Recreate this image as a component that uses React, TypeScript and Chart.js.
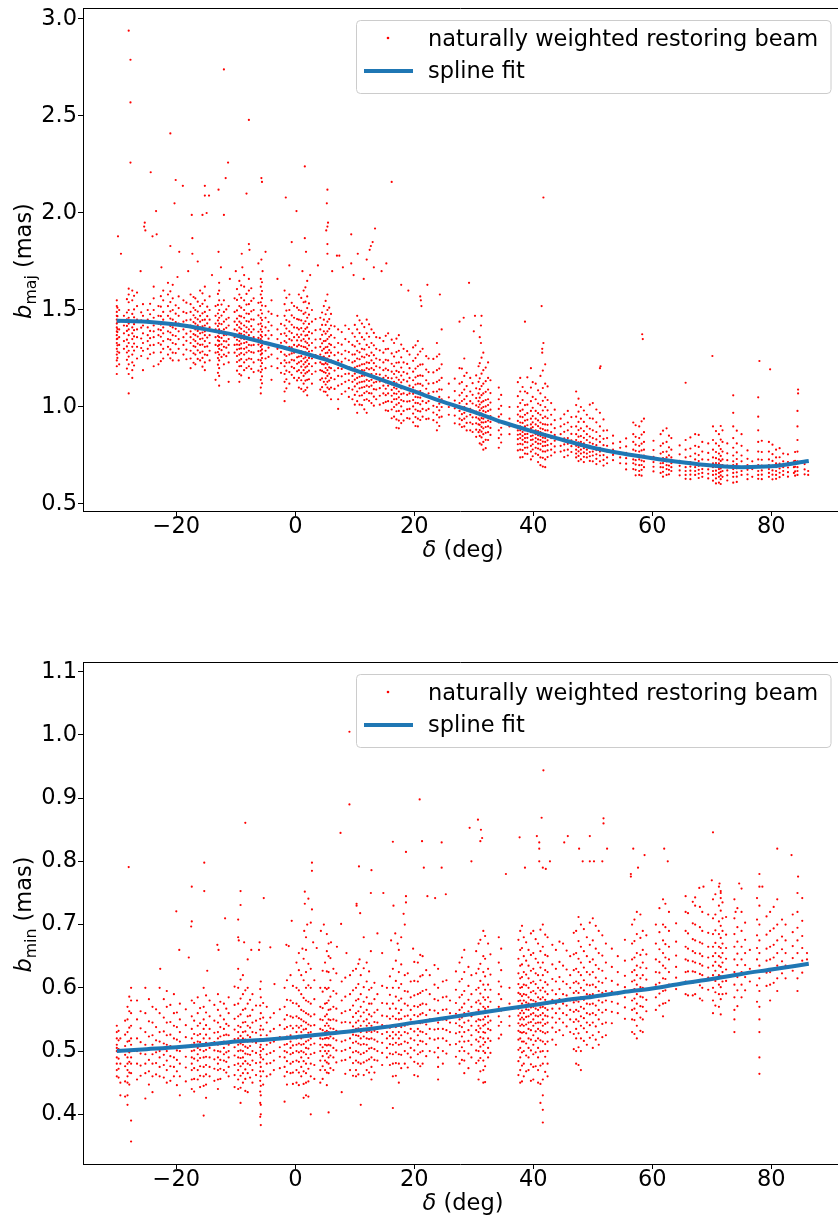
import React, { useEffect, useRef } from "react";
import { Chart, registerables } from "chart.js";

Chart.register(...registerables);

const FONT = '"DejaVu Sans", sans-serif';
const FS = 22.5;

type Column = [number, number[]];
type Pt = [number, number];

// ---------- axes ----------
const X_MIN = -35.68;
const X_MAX = 91.21;
const xTicks = [-20, 0, 20, 40, 60, 80];
const majYTicks = [0.5, 1.0, 1.5, 2.0, 2.5, 3.0];
const minYTicks = [0.4, 0.5, 0.6, 0.7, 0.8, 0.9, 1.0, 1.1];

// ---------- spline fits ----------
const splineDec = [-30, -25, -20, -15, -10, -5, 0, 5, 10, 15, 20, 25, 30, 35, 40, 45, 50, 55, 60, 65, 70, 75, 80, 86.3];
const majSpline = [1.445, 1.44, 1.425, 1.4, 1.37, 1.33, 1.29, 1.245, 1.19, 1.135, 1.08, 1.025, 0.975, 0.92, 0.873, 0.83, 0.79, 0.76, 0.736, 0.715, 0.698, 0.69, 0.694, 0.722];
const minSpline = [0.5, 0.503, 0.506, 0.51, 0.515, 0.518, 0.522, 0.527, 0.532, 0.538, 0.545, 0.552, 0.559, 0.566, 0.573, 0.58, 0.586, 0.593, 0.599, 0.607, 0.614, 0.622, 0.629, 0.638];

// ---------- b_maj beam columns (declination, values) ----------
const majSouth: Column[] = [
  [-30.0, [1.55, 1.52, 1.49, 1.47, 1.45, 1.43, 1.41, 1.39, 1.37, 1.35, 1.33, 1.3, 1.27, 1.24, 1.21, 1.17]],
  [-29.6, [1.5, 1.44, 1.4, 1.36, 1.32, 1.28, 1.22]],
  [-28.8, [1.47, 1.42, 1.38, 1.34, 1.3]],
  [-28.0, [1.61, 1.58, 1.54, 1.5, 1.46, 1.43, 1.4, 1.37, 1.33, 1.29, 1.26, 1.22, 1.17, 1.07]],
  [-27.4, [1.6, 1.55, 1.48, 1.44, 1.41, 1.38, 1.35, 1.31, 1.27, 1.23, 1.19, 1.15]],
  [-26.6, [1.59, 1.52, 1.45, 1.4, 1.36, 1.31, 1.25]],
  [-25.6, [1.53, 1.47, 1.42, 1.38, 1.33, 1.29, 1.19]],
  [-24.8, [1.5, 1.45, 1.41, 1.37, 1.34, 1.3, 1.25]],
  [-23.8, [1.62, 1.56, 1.5, 1.46, 1.42, 1.39, 1.36, 1.32, 1.28, 1.21]],
  [-23.0, [1.52, 1.47, 1.43, 1.4, 1.37, 1.33, 1.22]],
  [-22.2, [1.6, 1.55, 1.49, 1.45, 1.41, 1.38, 1.34, 1.3, 1.25]],
  [-21.4, [1.64, 1.58, 1.52, 1.47, 1.43, 1.39, 1.35, 1.31, 1.27]],
  [-20.6, [1.63, 1.56, 1.5, 1.45, 1.41, 1.37, 1.33, 1.28, 1.24]],
  [-19.6, [1.57, 1.51, 1.47, 1.43, 1.39, 1.35, 1.3, 1.24]],
  [-18.8, [1.55, 1.49, 1.44, 1.4, 1.36, 1.32, 1.27]],
  [-17.6, [1.58, 1.53, 1.49, 1.45, 1.42, 1.39, 1.36, 1.33, 1.29, 1.25, 1.2]],
  [-16.8, [1.56, 1.5, 1.46, 1.43, 1.4, 1.37, 1.34, 1.31, 1.27, 1.22]],
  [-16.0, [1.6, 1.52, 1.47, 1.44, 1.41, 1.38, 1.35, 1.32, 1.28, 1.24]],
  [-15.2, [1.62, 1.55, 1.49, 1.45, 1.42, 1.39, 1.37, 1.34, 1.31, 1.27, 1.23, 1.19]],
  [-14.4, [1.57, 1.5, 1.45, 1.41, 1.37, 1.33, 1.29, 1.24]],
  [-13.4, [1.52, 1.47, 1.43, 1.4, 1.36, 1.32, 1.28, 1.14]],
  [-12.8, [1.64, 1.6, 1.55, 1.5, 1.46, 1.43, 1.4, 1.38, 1.36, 1.34, 1.32, 1.3, 1.27, 1.24, 1.2, 1.16, 1.11]],
  [-12.0, [1.55, 1.49, 1.44, 1.4, 1.37, 1.34, 1.31, 1.27, 1.22]],
  [-11.2, [1.52, 1.46, 1.42, 1.38, 1.35, 1.32, 1.28, 1.23, 1.13]],
  [-10.2, [1.56, 1.49, 1.44, 1.4, 1.36, 1.32, 1.28]],
  [-9.4, [1.65, 1.58, 1.52, 1.47, 1.44, 1.41, 1.38, 1.36, 1.34, 1.32, 1.3, 1.27, 1.24, 1.21, 1.17, 1.13]],
  [-8.6, [1.62, 1.55, 1.5, 1.46, 1.42, 1.39, 1.37, 1.35, 1.33, 1.3, 1.27, 1.23, 1.19]],
  [-7.8, [1.66, 1.6, 1.53, 1.48, 1.44, 1.4, 1.37, 1.35, 1.32, 1.29, 1.25, 1.21, 1.15]],
  [-7.0, [1.56, 1.5, 1.45, 1.4, 1.36, 1.32, 1.28, 1.23, 1.18]],
  [-5.8, [1.66, 1.62, 1.58, 1.54, 1.5, 1.46, 1.43, 1.4, 1.37, 1.35, 1.33, 1.31, 1.29, 1.27, 1.24, 1.21, 1.18, 1.14, 1.1, 1.07]],
  [-5.0, [1.52, 1.46, 1.41, 1.37, 1.33, 1.29, 1.25, 1.2]],
  [-4.0, [1.55, 1.48, 1.42, 1.37, 1.32, 1.27, 1.21, 1.14]],
  [-3.0, [1.47, 1.4, 1.35, 1.3, 1.25, 1.2]],
  [-1.8, [1.6, 1.53, 1.47, 1.42, 1.38, 1.34, 1.3, 1.27, 1.24, 1.21, 1.17, 1.13, 1.08, 1.03]],
  [-1.0, [1.58, 1.5, 1.44, 1.39, 1.35, 1.31, 1.27, 1.23, 1.18, 1.12]],
  [-0.2, [1.52, 1.46, 1.41, 1.36, 1.32, 1.28, 1.24, 1.2, 1.15]],
];

const majSouthB: Column[] = [
  [-29.9, [1.512, 1.468, 1.437, 1.402, 1.386, 1.352, 1.318, 1.286, 1.253]],
  [-28.3, [1.556, 1.487, 1.452, 1.418, 1.392, 1.347, 1.312, 1.281, 1.243, 1.198]],
  [-27.1, [1.573, 1.503, 1.462, 1.427, 1.396, 1.364, 1.327, 1.291, 1.214]],
  [-25.9, [1.488, 1.446, 1.409, 1.353, 1.304, 1.263]],
  [-24.4, [1.532, 1.478, 1.433, 1.392, 1.355, 1.318, 1.272]],
  [-22.6, [1.571, 1.517, 1.468, 1.425, 1.396, 1.362, 1.321, 1.282, 1.236]],
  [-21.0, [1.596, 1.541, 1.493, 1.456, 1.418, 1.384, 1.346, 1.297, 1.251]],
  [-20.1, [1.524, 1.481, 1.437, 1.403, 1.366, 1.324, 1.278]],
  [-18.3, [1.538, 1.484, 1.447, 1.413, 1.378, 1.341, 1.296, 1.246]],
  [-17.1, [1.567, 1.511, 1.473, 1.438, 1.407, 1.376, 1.348, 1.314, 1.277, 1.228]],
  [-16.4, [1.543, 1.492, 1.452, 1.421, 1.392, 1.363, 1.327, 1.292, 1.248]],
  [-15.6, [1.586, 1.532, 1.483, 1.448, 1.416, 1.384, 1.353, 1.322, 1.286, 1.253, 1.208]],
  [-14.8, [1.517, 1.468, 1.431, 1.396, 1.358, 1.312, 1.267]],
  [-13.0, [1.583, 1.526, 1.482, 1.446, 1.417, 1.388, 1.366, 1.343, 1.314, 1.283, 1.252, 1.218, 1.176]],
  [-12.4, [1.528, 1.471, 1.427, 1.391, 1.356, 1.323, 1.293, 1.258]],
  [-11.6, [1.503, 1.452, 1.408, 1.372, 1.338, 1.306, 1.262]],
  [-9.8, [1.608, 1.552, 1.498, 1.456, 1.423, 1.394, 1.369, 1.346, 1.322, 1.296, 1.263, 1.232, 1.187]],
  [-9.1, [1.627, 1.563, 1.512, 1.467, 1.431, 1.403, 1.377, 1.353, 1.327, 1.302, 1.278, 1.247, 1.211, 1.163]],
  [-8.2, [1.583, 1.528, 1.482, 1.443, 1.411, 1.384, 1.358, 1.334, 1.307, 1.281, 1.243, 1.201]],
  [-7.4, [1.612, 1.547, 1.493, 1.452, 1.417, 1.386, 1.353, 1.318, 1.283, 1.247, 1.196]],
  [-6.2, [1.537, 1.472, 1.426, 1.388, 1.356, 1.322, 1.288, 1.243, 1.187]],
  [-5.6, [1.643, 1.598, 1.561, 1.523, 1.482, 1.448, 1.416, 1.388, 1.362, 1.341, 1.318, 1.297, 1.276, 1.252, 1.226, 1.193, 1.158, 1.122]],
  [-4.5, [1.492, 1.438, 1.393, 1.352, 1.306, 1.258]],
  [-2.4, [1.428, 1.376, 1.331, 1.284, 1.226, 1.176]],
  [-1.5, [1.563, 1.497, 1.448, 1.404, 1.367, 1.332, 1.298, 1.263, 1.228, 1.187, 1.143, 1.096]],
  [-0.6, [1.537, 1.472, 1.424, 1.381, 1.343, 1.308, 1.276, 1.243, 1.207, 1.166]],
];

const majMid: Column[] = [
  [0.6, [1.58, 1.5, 1.45, 1.4, 1.36, 1.32, 1.29, 1.26, 1.23, 1.19, 1.15, 1.1]],
  [1.4, [1.6, 1.54, 1.48, 1.43, 1.39, 1.35, 1.31, 1.28, 1.25, 1.22, 1.19, 1.16, 1.12, 1.08]],
  [2.0, [1.65, 1.57, 1.51, 1.46, 1.41, 1.37, 1.33, 1.3, 1.27, 1.24, 1.21, 1.18, 1.14, 1.1, 1.06]],
  [2.8, [1.5, 1.44, 1.38, 1.33, 1.29, 1.25, 1.21, 1.17, 1.12]],
  [4.2, [1.46, 1.4, 1.35, 1.31, 1.27, 1.23, 1.19, 1.14, 1.09]],
  [4.8, [1.52, 1.45, 1.39, 1.34, 1.3, 1.26, 1.22, 1.18, 1.13, 1.08]],
  [5.4, [1.58, 1.5, 1.44, 1.39, 1.35, 1.31, 1.28, 1.25, 1.22, 1.19, 1.16, 1.13, 1.1, 1.06]],
  [6.0, [1.48, 1.42, 1.37, 1.32, 1.28, 1.24, 1.2, 1.15, 1.1, 1.04]],
  [7.2, [1.4, 1.33, 1.28, 1.24, 1.2, 1.16, 1.11, 1.04, 0.99]],
  [8.4, [1.42, 1.35, 1.29, 1.25, 1.21, 1.17, 1.13, 1.08]],
  [9.6, [1.38, 1.32, 1.27, 1.23, 1.19, 1.16, 1.13, 1.09, 1.04]],
  [10.4, [1.47, 1.4, 1.34, 1.29, 1.25, 1.21, 1.18, 1.15, 1.12, 1.08, 1.03, 0.97]],
  [11.2, [1.43, 1.36, 1.3, 1.26, 1.22, 1.19, 1.16, 1.13, 1.1, 1.06, 1.01]],
  [12.0, [1.45, 1.38, 1.32, 1.27, 1.23, 1.2, 1.17, 1.14, 1.11, 1.08, 1.04, 0.97]],
  [12.8, [1.4, 1.33, 1.28, 1.24, 1.2, 1.17, 1.14, 1.11, 1.07, 1.02]],
  [13.6, [1.36, 1.3, 1.25, 1.21, 1.17, 1.13, 1.09, 1.04]],
  [14.8, [1.34, 1.28, 1.23, 1.19, 1.15, 1.11, 1.07, 1.02]],
  [15.6, [1.38, 1.3, 1.24, 1.19, 1.15, 1.11, 1.07, 1.03, 0.98]],
  [16.6, [1.33, 1.26, 1.21, 1.17, 1.13, 1.1, 1.07, 1.04, 1.0, 0.95]],
  [17.4, [1.37, 1.29, 1.23, 1.18, 1.14, 1.11, 1.08, 1.05, 1.02, 0.98, 0.93, 0.89]],
  [18.2, [1.3, 1.23, 1.18, 1.14, 1.1, 1.07, 1.03, 0.98, 0.93]],
  [19.2, [1.27, 1.2, 1.15, 1.11, 1.07, 1.03, 0.99, 0.94]],
  [20.6, [1.34, 1.27, 1.21, 1.16, 1.12, 1.08, 1.05, 1.02, 0.98, 0.94, 0.9]],
  [21.4, [1.3, 1.22, 1.16, 1.11, 1.07, 1.03, 0.99, 0.95]],
  [22.4, [1.25, 1.18, 1.12, 1.07, 1.03, 0.99, 0.94]],
  [23.8, [1.33, 1.26, 1.19, 1.13, 1.08, 1.04, 1.0, 0.96, 0.92, 0.88]],
  [24.6, [1.22, 1.15, 1.09, 1.04, 1.0, 0.95]],
  [25.8, [1.12, 1.05, 1.0, 0.96]],
  [27.6, [1.2, 1.12, 1.06, 1.02, 0.98, 0.94, 0.91]],
  [28.4, [1.25, 1.16, 1.09, 1.04, 1.0, 0.97, 0.94, 0.9]],
  [29.4, [1.15, 1.08, 1.03, 0.99, 0.96, 0.92, 0.88]],
];

const majMidB: Column[] = [
  [0.3, [1.512, 1.453, 1.408, 1.373, 1.343, 1.312, 1.284, 1.256, 1.223, 1.184, 1.137]],
  [1.0, [1.562, 1.496, 1.446, 1.407, 1.373, 1.342, 1.314, 1.287, 1.262, 1.236, 1.208, 1.176, 1.138, 1.093]],
  [1.7, [1.617, 1.543, 1.487, 1.442, 1.403, 1.368, 1.337, 1.308, 1.282, 1.256, 1.231, 1.204, 1.173, 1.136, 1.087]],
  [2.3, [1.534, 1.476, 1.428, 1.387, 1.352, 1.318, 1.286, 1.253, 1.222, 1.187, 1.143]],
  [3.4, [1.453, 1.396, 1.348, 1.306, 1.267, 1.226, 1.183]],
  [4.5, [1.487, 1.423, 1.372, 1.328, 1.291, 1.256, 1.221, 1.186, 1.148, 1.102]],
  [5.1, [1.547, 1.478, 1.423, 1.378, 1.341, 1.308, 1.278, 1.251, 1.226, 1.201, 1.176, 1.148, 1.116, 1.078]],
  [5.7, [1.512, 1.453, 1.403, 1.362, 1.326, 1.293, 1.262, 1.233, 1.204, 1.172, 1.136, 1.092]],
  [6.6, [1.416, 1.357, 1.308, 1.267, 1.228, 1.188, 1.143, 1.093]],
  [7.8, [1.386, 1.321, 1.272, 1.233, 1.196, 1.158, 1.118, 1.067]],
  [9.0, [1.402, 1.336, 1.283, 1.241, 1.206, 1.172, 1.138, 1.097, 1.052]],
  [10.0, [1.423, 1.362, 1.312, 1.271, 1.236, 1.203, 1.172, 1.141, 1.106, 1.062, 1.012]],
  [10.8, [1.447, 1.381, 1.326, 1.282, 1.246, 1.213, 1.184, 1.156, 1.127, 1.096, 1.058, 1.012]],
  [11.6, [1.412, 1.348, 1.297, 1.256, 1.221, 1.189, 1.161, 1.132, 1.103, 1.072, 1.036, 0.988]],
  [12.4, [1.426, 1.362, 1.308, 1.264, 1.227, 1.194, 1.163, 1.134, 1.104, 1.071, 1.032]],
  [13.2, [1.382, 1.318, 1.267, 1.226, 1.191, 1.158, 1.126, 1.092, 1.053, 1.007]],
  [14.2, [1.356, 1.292, 1.243, 1.203, 1.167, 1.132, 1.097, 1.058, 1.012]],
  [15.2, [1.367, 1.298, 1.243, 1.198, 1.161, 1.127, 1.094, 1.061, 1.026, 0.983]],
  [16.2, [1.347, 1.276, 1.223, 1.182, 1.148, 1.117, 1.088, 1.058, 1.026, 0.987, 0.942]],
  [17.0, [1.352, 1.283, 1.228, 1.186, 1.152, 1.122, 1.094, 1.068, 1.041, 1.012, 0.978, 0.936, 0.893]],
  [17.8, [1.322, 1.256, 1.203, 1.162, 1.127, 1.096, 1.066, 1.036, 1.003, 0.963, 0.917]],
  [18.8, [1.288, 1.222, 1.172, 1.132, 1.097, 1.063, 1.028, 0.988, 0.943]],
  [19.8, [1.307, 1.238, 1.182, 1.138, 1.101, 1.068, 1.036, 1.003, 0.966, 0.921]],
  [20.2, [1.318, 1.252, 1.198, 1.153, 1.116, 1.083, 1.052, 1.021, 0.987, 0.948, 0.902]],
  [21.0, [1.286, 1.218, 1.163, 1.119, 1.082, 1.048, 1.014, 0.977, 0.933]],
  [22.0, [1.262, 1.193, 1.138, 1.094, 1.056, 1.021, 0.983, 0.938]],
  [23.2, [1.248, 1.178, 1.123, 1.078, 1.041, 1.006, 0.971, 0.932]],
  [24.2, [1.272, 1.198, 1.138, 1.091, 1.052, 1.017, 0.983, 0.946, 0.902]],
  [26.8, [1.146, 1.082, 1.033, 0.993, 0.956, 0.916]],
  [28.0, [1.198, 1.128, 1.073, 1.031, 0.996, 0.963, 0.932, 0.897]],
  [28.8, [1.176, 1.108, 1.056, 1.016, 0.982, 0.951, 0.918, 0.879]],
  [29.8, [1.123, 1.063, 1.018, 0.981, 0.947, 0.912, 0.871]],
];

const majNorth: Column[] = [
  [30.8, [1.21, 1.13, 1.07, 1.03, 1.0, 0.97, 0.94, 0.91, 0.87]],
  [31.6, [1.28, 1.19, 1.12, 1.07, 1.03, 1.0, 0.98, 0.96, 0.94, 0.92, 0.89, 0.86, 0.82, 0.78]],
  [32.4, [1.23, 1.15, 1.09, 1.04, 1.01, 0.98, 0.95, 0.93, 0.9, 0.87, 0.83]],
  [34.2, [1.1, 1.04, 0.99, 0.95, 0.92, 0.88, 0.84, 0.79]],
  [36.0, [1.0, 0.94, 0.9, 0.86]],
  [37.8, [1.15, 1.08, 1.02, 0.98, 0.95, 0.92, 0.9, 0.88, 0.86, 0.84, 0.81, 0.78, 0.74]],
  [38.6, [1.08, 1.01, 0.96, 0.93, 0.9, 0.88, 0.86, 0.84, 0.82, 0.79, 0.76]],
  [39.6, [1.2, 1.1, 1.03, 0.98, 0.94, 0.91, 0.89, 0.87, 0.85, 0.83, 0.8, 0.77, 0.73]],
  [40.4, [1.12, 1.04, 0.98, 0.94, 0.91, 0.88, 0.86, 0.84, 0.82, 0.79, 0.76]],
  [41.2, [1.16, 1.07, 1.01, 0.96, 0.92, 0.89, 0.87, 0.85, 0.83, 0.81, 0.78, 0.74, 0.7]],
  [42.0, [1.22, 1.12, 1.05, 1.0, 0.95, 0.91, 0.88, 0.86, 0.84, 0.82, 0.8, 0.77, 0.73, 0.69]],
  [43.0, [1.02, 0.96, 0.91, 0.87, 0.84, 0.81, 0.78, 0.75]],
  [44.6, [0.94, 0.9, 0.86, 0.83, 0.8, 0.77]],
  [45.8, [0.98, 0.92, 0.88, 0.84, 0.81, 0.78, 0.75]],
  [47.2, [1.08, 1.01, 0.95, 0.9, 0.86, 0.83, 0.8, 0.78, 0.76, 0.74]],
  [48.0, [1.0, 0.94, 0.89, 0.85, 0.82, 0.8, 0.78, 0.76, 0.73]],
  [49.0, [0.96, 0.9, 0.86, 0.83, 0.8, 0.78, 0.76, 0.74]],
  [50.0, [1.02, 0.94, 0.88, 0.84, 0.81, 0.79, 0.77, 0.75, 0.72]],
  [51.2, [0.97, 0.9, 0.85, 0.82, 0.79, 0.77, 0.75, 0.72]],
  [52.4, [0.88, 0.84, 0.8, 0.77, 0.74, 0.71]],
  [54.6, [0.82, 0.79, 0.76, 0.74, 0.71]],
  [56.8, [0.92, 0.86, 0.82, 0.78, 0.75, 0.73, 0.71, 0.68]],
  [57.8, [0.9, 0.84, 0.8, 0.77, 0.75, 0.73, 0.7, 0.67, 0.65]],
  [58.6, [0.94, 0.87, 0.82, 0.78, 0.75, 0.72, 0.69]],
];

const majNorthB: Column[] = [
  [30.4, [1.163, 1.096, 1.046, 1.008, 0.976, 0.946, 0.916, 0.883, 0.846]],
  [31.0, [1.226, 1.148, 1.092, 1.048, 1.013, 0.983, 0.957, 0.933, 0.908, 0.881, 0.851, 0.812]],
  [31.3, [1.254, 1.172, 1.108, 1.061, 1.024, 0.993, 0.966, 0.943, 0.921, 0.898, 0.873, 0.843, 0.806]],
  [32.0, [1.203, 1.133, 1.078, 1.036, 1.003, 0.974, 0.948, 0.923, 0.897, 0.867, 0.831, 0.788]],
  [32.8, [1.138, 1.072, 1.023, 0.986, 0.953, 0.923, 0.892, 0.856]],
  [34.6, [1.062, 1.006, 0.962, 0.926, 0.893, 0.858, 0.817]],
  [37.4, [1.128, 1.056, 1.001, 0.961, 0.928, 0.902, 0.879, 0.857, 0.834, 0.808, 0.776]],
  [38.2, [1.103, 1.036, 0.986, 0.948, 0.918, 0.893, 0.871, 0.851, 0.831, 0.807, 0.778, 0.742]],
  [39.0, [1.153, 1.071, 1.012, 0.968, 0.934, 0.906, 0.882, 0.861, 0.841, 0.818, 0.791, 0.758]],
  [39.9, [1.128, 1.052, 0.996, 0.953, 0.921, 0.896, 0.874, 0.853, 0.832, 0.808, 0.781, 0.746]],
  [40.8, [1.086, 1.018, 0.968, 0.931, 0.901, 0.876, 0.854, 0.833, 0.811, 0.786, 0.753, 0.716]],
  [41.6, [1.188, 1.098, 1.032, 0.982, 0.943, 0.912, 0.886, 0.863, 0.842, 0.821, 0.798, 0.771, 0.738, 0.693]],
  [42.4, [1.106, 1.036, 0.983, 0.942, 0.908, 0.879, 0.853, 0.828, 0.803, 0.776, 0.742]],
  [43.6, [0.986, 0.932, 0.891, 0.856, 0.826, 0.797, 0.766]],
  [45.2, [0.962, 0.911, 0.872, 0.838, 0.807, 0.776, 0.742]],
  [46.4, [0.948, 0.898, 0.861, 0.828, 0.798, 0.768]],
  [47.6, [1.043, 0.976, 0.923, 0.881, 0.847, 0.818, 0.793, 0.771, 0.748, 0.721]],
  [48.5, [0.982, 0.923, 0.876, 0.841, 0.812, 0.788, 0.766, 0.743, 0.716]],
  [49.5, [1.012, 0.942, 0.888, 0.848, 0.817, 0.791, 0.768, 0.746, 0.722]],
  [50.6, [0.987, 0.921, 0.871, 0.833, 0.803, 0.778, 0.756, 0.733, 0.706]],
  [51.8, [0.936, 0.878, 0.836, 0.803, 0.776, 0.752, 0.727, 0.698]],
  [53.4, [0.852, 0.812, 0.781, 0.753, 0.726]],
  [55.6, [0.838, 0.797, 0.764, 0.736, 0.708, 0.678]],
  [57.2, [0.906, 0.846, 0.806, 0.774, 0.748, 0.726, 0.703, 0.676, 0.648]],
  [58.2, [0.926, 0.858, 0.811, 0.776, 0.748, 0.724, 0.701, 0.676, 0.646]],
];

const majFar: Column[] = [
  [61.4, [0.86, 0.8, 0.76, 0.73, 0.71, 0.69, 0.66]],
  [62.4, [0.89, 0.82, 0.77, 0.74, 0.72, 0.7, 0.68, 0.65]],
  [63.2, [0.84, 0.78, 0.74, 0.71, 0.69, 0.67]],
  [65.6, [0.83, 0.78, 0.74, 0.71, 0.69, 0.67, 0.65, 0.63]],
  [67.2, [0.86, 0.8, 0.76, 0.73, 0.71, 0.69, 0.67, 0.65]],
  [68.4, [0.82, 0.77, 0.73, 0.7, 0.68, 0.66, 0.64]],
  [70.2, [0.9, 0.83, 0.78, 0.74, 0.71, 0.69, 0.67, 0.65, 0.62]],
  [71.2, [0.86, 0.8, 0.76, 0.73, 0.71, 0.69, 0.68, 0.66, 0.64, 0.61]],
  [71.8, [0.88, 0.82, 0.77, 0.73, 0.7, 0.67, 0.64]],
  [73.6, [1.06, 0.97, 0.9, 0.84, 0.79, 0.75, 0.72, 0.7, 0.68, 0.66, 0.64, 0.61]],
  [75.0, [0.86, 0.8, 0.75, 0.72, 0.69, 0.67, 0.65]],
  [76.8, [0.72, 0.68, 0.64]],
  [77.8, [1.05, 0.95, 0.88, 0.82, 0.77, 0.73, 0.7, 0.67, 0.65, 0.63]],
  [79.6, [0.82, 0.77, 0.73, 0.7, 0.68, 0.66, 0.64]],
  [80.8, [0.78, 0.74, 0.71, 0.69, 0.67, 0.65, 0.63]],
  [82.0, [0.76, 0.72, 0.69, 0.67, 0.65]],
  [83.8, [0.72, 0.69, 0.66]],
  [84.4, [0.98, 0.9, 0.83, 0.77, 0.72, 0.69, 0.67, 0.65]],
  [86.2, [0.67, 0.65]],
];

const majFarB: Column[] = [
  [60.2, [0.826, 0.778, 0.743, 0.716, 0.692, 0.668]],
  [61.8, [0.878, 0.812, 0.768, 0.736, 0.711, 0.689, 0.666, 0.641]],
  [62.8, [0.852, 0.792, 0.751, 0.722, 0.698, 0.676, 0.653]],
  [64.6, [0.802, 0.756, 0.723, 0.697, 0.673, 0.648]],
  [66.4, [0.843, 0.786, 0.746, 0.716, 0.693, 0.672, 0.651, 0.628]],
  [67.8, [0.856, 0.794, 0.752, 0.721, 0.697, 0.676, 0.656, 0.634]],
  [69.4, [0.812, 0.763, 0.728, 0.701, 0.678, 0.656, 0.632]],
  [70.7, [0.876, 0.812, 0.768, 0.736, 0.711, 0.691, 0.672, 0.653, 0.632, 0.606]],
  [71.5, [0.902, 0.832, 0.783, 0.748, 0.722, 0.701, 0.683, 0.666, 0.648, 0.628, 0.603]],
  [72.6, [0.812, 0.761, 0.726, 0.698, 0.673, 0.648, 0.621]],
  [74.2, [0.878, 0.812, 0.766, 0.732, 0.706, 0.684, 0.663, 0.641, 0.614]],
  [76.0, [0.776, 0.733, 0.701, 0.676, 0.652, 0.628]],
  [78.4, [0.826, 0.768, 0.728, 0.698, 0.673, 0.651, 0.628]],
  [80.2, [0.806, 0.757, 0.722, 0.696, 0.673, 0.651, 0.627]],
  [81.4, [0.788, 0.741, 0.708, 0.683, 0.661, 0.638]],
  [82.8, [0.756, 0.716, 0.688, 0.664, 0.641]],
  [84.0, [0.768, 0.723, 0.692, 0.668, 0.646]],
  [85.6, [0.706, 0.678, 0.653]],
];

const majOutliers: Pt[] = [
  [-29.8, 1.88], [-29.3, 1.79], [-28.0, 2.94], [-27.7, 2.79], [-27.7, 2.57], [-27.7, 2.26], [-25.4, 1.93], [-25.3, 1.95],
  [-25.2, 1.91], [-24.3, 2.21], [-24.0, 1.88], [-23.4, 2.01], [-23.3, 1.89], [-21.0, 2.41], [-21.0, 1.83], [-20.3, 2.05],
  [-20.1, 2.17], [-19.5, 1.8], [-18.9, 2.14], [-17.4, 1.99], [-17.3, 1.87], [-17.3, 1.79], [-16.4, 1.75], [-15.6, 1.99],
  [-15.2, 2.14], [-15.2, 2.09], [-14.9, 2.0], [-14.5, 2.09], [-12.9, 2.12], [-12.9, 1.8], [-12.0, 2.74], [-12.0, 1.99],
  [-11.7, 2.18], [-11.3, 2.26], [-9.0, 1.79], [-8.2, 2.1], [-7.8, 2.48], [-7.8, 1.84], [-7.7, 1.81], [-5.7, 2.18],
  [-5.6, 2.16], [-5.7, 1.76], [-5.0, 1.8], [-1.6, 2.08], [-0.6, 1.85], [0.2, 2.01], [1.6, 2.24], [1.6, 1.87], [1.8, 1.8],
  [5.3, 2.05], [5.4, 2.12], [5.5, 1.95], [5.4, 1.93], [5.2, 1.91], [5.4, 1.84], [5.4, 1.79], [7.0, 1.78], [7.4, 1.78],
  [9.4, 1.89], [9.4, 1.74], [10.5, 1.79], [12.0, 1.76], [12.5, 1.81], [12.7, 1.83], [13.4, 1.92], [13.0, 1.85],
  [15.3, 1.74], [16.2, 2.16], [21.0, 1.57], [21.1, 1.55], [21.2, 1.52], [22.2, 1.63], [24.3, 1.58], [29.2, 1.64],
  [27.6, 1.44], [24.6, 1.4], [28.3, 1.46], [30.2, 1.47], [31.3, 1.47], [31.2, 1.42], [30.0, 1.39], [31.0, 1.36],
  [31.2, 1.33], [38.6, 1.44], [41.4, 1.52], [41.7, 2.08], [41.7, 1.33], [41.5, 1.3], [41.5, 1.28], [51.3, 1.21],
  [51.2, 1.2], [58.3, 1.375], [58.4, 1.35], [65.6, 1.125], [70.1, 1.263], [78.0, 1.237], [79.8, 1.194], [84.5, 1.09],
  [84.5, 1.07], [-26.0, 1.7], [-22.5, 1.72], [-19.8, 1.67], [-18.0, 1.7], [-14.0, 1.68], [-12.5, 1.72], [-11.0, 1.66],
  [-10.0, 1.7], [-8.9, 1.72], [-8.6, 1.68], [-6.2, 1.74], [-5.5, 1.7], [-3.0, 1.66], [-1.0, 1.73], [1.2, 1.7],
  [2.5, 1.68], [3.8, 1.73], [6.2, 1.7], [8.0, 1.72], [9.8, 1.68], [11.5, 1.66], [13.2, 1.72], [14.5, 1.7], [17.8, 1.63],
  [19.0, 1.6],
];

// ---------- b_min beam columns (declination, values) ----------
const minSouth: Column[] = [
  [-30.0, [0.54, 0.53, 0.52, 0.51, 0.505, 0.5, 0.49, 0.48, 0.47, 0.46]],
  [-29.4, [0.52, 0.5, 0.48, 0.45, 0.43]],
  [-28.2, [0.57, 0.55, 0.53, 0.515, 0.5, 0.49, 0.48, 0.47, 0.46, 0.45, 0.43, 0.415]],
  [-27.6, [0.6, 0.58, 0.56, 0.54, 0.52, 0.51, 0.5, 0.49, 0.48, 0.465, 0.39, 0.357]],
  [-26.6, [0.58, 0.55, 0.52, 0.5, 0.48, 0.455]],
  [-25.2, [0.6, 0.56, 0.53, 0.51, 0.495, 0.48, 0.465, 0.425]],
  [-24.0, [0.57, 0.545, 0.525, 0.51, 0.495, 0.48, 0.46, 0.435]],
  [-22.8, [0.6, 0.56, 0.53, 0.515, 0.5, 0.49, 0.475, 0.46]],
  [-21.6, [0.595, 0.57, 0.545, 0.525, 0.51, 0.5, 0.485, 0.47, 0.45]],
  [-20.4, [0.59, 0.56, 0.54, 0.52, 0.505, 0.49, 0.475, 0.46]],
  [-19.4, [0.575, 0.55, 0.53, 0.515, 0.5, 0.48, 0.46, 0.43]],
  [-17.4, [0.58, 0.555, 0.535, 0.52, 0.51, 0.5, 0.49, 0.48, 0.47, 0.455, 0.44]],
  [-16.4, [0.585, 0.56, 0.54, 0.525, 0.515, 0.505, 0.495, 0.485, 0.47, 0.455]],
  [-15.4, [0.6, 0.57, 0.55, 0.535, 0.52, 0.51, 0.5, 0.49, 0.475, 0.46, 0.445, 0.398]],
  [-14.4, [0.58, 0.555, 0.535, 0.52, 0.505, 0.49, 0.475, 0.46]],
  [-13.0, [0.59, 0.565, 0.545, 0.53, 0.52, 0.51, 0.5, 0.49, 0.48, 0.47, 0.455, 0.44]],
  [-12.0, [0.575, 0.55, 0.535, 0.525, 0.515, 0.505, 0.495, 0.485, 0.47]],
  [-11.2, [0.585, 0.56, 0.54, 0.525, 0.51, 0.5, 0.49, 0.475, 0.46]],
  [-9.6, [0.63, 0.6, 0.575, 0.555, 0.54, 0.53, 0.52, 0.51, 0.5, 0.49, 0.48, 0.47, 0.455, 0.44]],
  [-8.8, [0.62, 0.59, 0.565, 0.545, 0.53, 0.52, 0.51, 0.5, 0.49, 0.48, 0.465, 0.45]],
  [-8.0, [0.6, 0.575, 0.555, 0.54, 0.525, 0.515, 0.505, 0.495, 0.48, 0.465, 0.435]],
  [-7.2, [0.59, 0.565, 0.545, 0.53, 0.515, 0.5, 0.485, 0.47, 0.45]],
  [-5.8, [0.61, 0.585, 0.56, 0.54, 0.525, 0.51, 0.5, 0.49, 0.475, 0.46, 0.445, 0.43, 0.415, 0.4, 0.383]],
  [-4.8, [0.57, 0.545, 0.525, 0.51, 0.495, 0.48, 0.46]],
  [-3.6, [0.56, 0.535, 0.515, 0.5, 0.485, 0.47]],
  [-1.8, [0.6, 0.57, 0.55, 0.535, 0.52, 0.51, 0.5, 0.49, 0.475, 0.46, 0.42]],
  [-0.8, [0.62, 0.58, 0.555, 0.54, 0.525, 0.515, 0.505, 0.495, 0.48, 0.465]],
];

const minSouthB: Column[] = [
  [-29.7, [0.532, 0.517, 0.503, 0.488, 0.472, 0.458]],
  [-28.6, [0.548, 0.526, 0.508, 0.494, 0.476, 0.452, 0.428]],
  [-27.9, [0.586, 0.563, 0.537, 0.516, 0.498, 0.483, 0.466, 0.447]],
  [-26.0, [0.563, 0.536, 0.514, 0.496, 0.477, 0.461]],
  [-24.6, [0.582, 0.547, 0.523, 0.503, 0.486, 0.468, 0.447]],
  [-23.4, [0.566, 0.538, 0.517, 0.498, 0.481, 0.463]],
  [-22.1, [0.582, 0.553, 0.531, 0.512, 0.494, 0.478, 0.458]],
  [-21.0, [0.573, 0.546, 0.526, 0.508, 0.492, 0.476, 0.453]],
  [-19.9, [0.561, 0.538, 0.518, 0.501, 0.486, 0.468, 0.446]],
  [-18.4, [0.566, 0.541, 0.522, 0.506, 0.491, 0.474, 0.452]],
  [-17.0, [0.576, 0.548, 0.527, 0.513, 0.501, 0.488, 0.473, 0.456, 0.436]],
  [-16.0, [0.568, 0.544, 0.527, 0.514, 0.502, 0.489, 0.476, 0.461, 0.443]],
  [-15.0, [0.588, 0.561, 0.541, 0.526, 0.513, 0.502, 0.491, 0.478, 0.463, 0.447, 0.426]],
  [-13.6, [0.573, 0.548, 0.529, 0.514, 0.501, 0.487, 0.472, 0.453]],
  [-12.6, [0.578, 0.556, 0.538, 0.523, 0.511, 0.499, 0.486, 0.472, 0.456]],
  [-11.6, [0.567, 0.543, 0.526, 0.512, 0.498, 0.483, 0.466]],
  [-10.2, [0.602, 0.573, 0.551, 0.534, 0.519, 0.506, 0.493, 0.478, 0.462, 0.443]],
  [-9.2, [0.613, 0.583, 0.558, 0.538, 0.524, 0.512, 0.501, 0.489, 0.476, 0.461, 0.442, 0.418]],
  [-8.4, [0.596, 0.567, 0.546, 0.531, 0.518, 0.507, 0.496, 0.484, 0.471, 0.456, 0.437]],
  [-7.6, [0.581, 0.556, 0.537, 0.522, 0.508, 0.494, 0.478, 0.458]],
  [-6.6, [0.572, 0.548, 0.529, 0.513, 0.497, 0.481, 0.462]],
  [-5.9, [0.598, 0.572, 0.551, 0.534, 0.519, 0.506, 0.494, 0.482, 0.468, 0.453, 0.436, 0.418, 0.396]],
  [-5.4, [0.576, 0.553, 0.534, 0.518, 0.503, 0.487, 0.468, 0.447]],
  [-4.2, [0.553, 0.531, 0.513, 0.497, 0.481, 0.463]],
  [-2.6, [0.566, 0.541, 0.522, 0.506, 0.491, 0.473]],
  [-1.4, [0.612, 0.581, 0.557, 0.538, 0.523, 0.511, 0.498, 0.484, 0.467, 0.447]],
  [-0.4, [0.603, 0.576, 0.553, 0.536, 0.522, 0.509, 0.497, 0.483, 0.466, 0.448]],
];

const minMid: Column[] = [
  [0.2, [0.64, 0.6, 0.575, 0.555, 0.54, 0.53, 0.52, 0.51, 0.5, 0.485, 0.47, 0.45]],
  [1.0, [0.62, 0.59, 0.565, 0.55, 0.54, 0.53, 0.52, 0.51, 0.5, 0.49, 0.475, 0.46]],
  [1.8, [0.66, 0.625, 0.6, 0.58, 0.56, 0.545, 0.535, 0.525, 0.515, 0.505, 0.495, 0.48, 0.465, 0.45, 0.43]],
  [2.6, [0.63, 0.6, 0.575, 0.555, 0.54, 0.53, 0.52, 0.51, 0.495, 0.48, 0.46, 0.4]],
  [4.2, [0.6, 0.57, 0.55, 0.535, 0.52, 0.51, 0.5, 0.485, 0.47, 0.45]],
  [5.0, [0.64, 0.6, 0.575, 0.555, 0.54, 0.53, 0.52, 0.51, 0.5, 0.485, 0.47]],
  [5.6, [0.67, 0.65, 0.625, 0.6, 0.58, 0.565, 0.55, 0.54, 0.53, 0.52, 0.51, 0.5, 0.49, 0.48, 0.465, 0.403]],
  [6.4, [0.63, 0.595, 0.57, 0.55, 0.535, 0.52, 0.505, 0.49, 0.47]],
  [7.8, [0.61, 0.58, 0.56, 0.545, 0.53, 0.515, 0.5, 0.485, 0.435]],
  [9.2, [0.62, 0.59, 0.565, 0.545, 0.53, 0.52, 0.505, 0.49, 0.47]],
  [10.2, [0.63, 0.6, 0.58, 0.56, 0.545, 0.535, 0.525, 0.515, 0.5, 0.485, 0.47, 0.46]],
  [11.0, [0.62, 0.59, 0.57, 0.555, 0.54, 0.53, 0.52, 0.51, 0.495, 0.48, 0.415]],
  [12.0, [0.64, 0.61, 0.585, 0.565, 0.55, 0.54, 0.53, 0.52, 0.51, 0.5, 0.485, 0.47]],
  [12.8, [0.6, 0.575, 0.555, 0.54, 0.53, 0.52, 0.505, 0.49, 0.475, 0.455]],
  [13.8, [0.59, 0.565, 0.545, 0.53, 0.515, 0.5, 0.485]],
  [15.4, [0.6, 0.575, 0.555, 0.54, 0.53, 0.52, 0.505, 0.49]],
  [16.4, [0.63, 0.6, 0.575, 0.555, 0.54, 0.53, 0.52, 0.51, 0.495, 0.48, 0.46, 0.41]],
  [17.4, [0.66, 0.625, 0.6, 0.58, 0.56, 0.55, 0.54, 0.53, 0.52, 0.51, 0.495, 0.48, 0.45]],
  [18.4, [0.62, 0.595, 0.575, 0.555, 0.54, 0.53, 0.515, 0.5, 0.48]],
  [19.4, [0.61, 0.585, 0.565, 0.55, 0.535, 0.52, 0.505, 0.49]],
  [20.6, [0.64, 0.61, 0.59, 0.57, 0.555, 0.545, 0.535, 0.525, 0.51, 0.495, 0.48, 0.46]],
  [21.4, [0.65, 0.62, 0.595, 0.575, 0.56, 0.545, 0.53, 0.515, 0.5, 0.48]],
  [22.6, [0.62, 0.59, 0.565, 0.55, 0.535, 0.52, 0.5]],
  [24.0, [0.63, 0.6, 0.58, 0.56, 0.545, 0.535, 0.52, 0.505, 0.49, 0.475, 0.455]],
  [24.8, [0.61, 0.585, 0.565, 0.55, 0.535, 0.52, 0.5, 0.48]],
  [26.0, [0.58, 0.56, 0.545, 0.53, 0.51]],
  [27.6, [0.64, 0.61, 0.585, 0.565, 0.55, 0.54, 0.53, 0.515, 0.5, 0.48]],
  [28.4, [0.66, 0.625, 0.595, 0.575, 0.56, 0.545, 0.53, 0.515, 0.5, 0.485, 0.465]],
  [29.6, [0.62, 0.59, 0.57, 0.555, 0.54, 0.525, 0.51, 0.49]],
];

const minMidB: Column[] = [
  [0.6, [0.628, 0.596, 0.571, 0.552, 0.537, 0.524, 0.512, 0.498, 0.483, 0.466, 0.446]],
  [1.4, [0.646, 0.612, 0.584, 0.563, 0.547, 0.534, 0.522, 0.511, 0.498, 0.484, 0.468, 0.448, 0.426]],
  [2.2, [0.638, 0.604, 0.578, 0.558, 0.542, 0.529, 0.517, 0.504, 0.489, 0.472, 0.452, 0.428]],
  [3.2, [0.612, 0.582, 0.558, 0.541, 0.526, 0.512, 0.497, 0.478, 0.456]],
  [4.6, [0.627, 0.594, 0.568, 0.549, 0.533, 0.519, 0.506, 0.492, 0.476, 0.456]],
  [5.3, [0.658, 0.626, 0.598, 0.576, 0.558, 0.544, 0.532, 0.521, 0.509, 0.496, 0.482, 0.466, 0.446]],
  [5.9, [0.647, 0.612, 0.586, 0.566, 0.549, 0.536, 0.523, 0.509, 0.493, 0.473]],
  [6.9, [0.623, 0.591, 0.567, 0.548, 0.532, 0.517, 0.501, 0.482]],
  [8.4, [0.616, 0.586, 0.563, 0.546, 0.531, 0.517, 0.502, 0.486, 0.464]],
  [9.7, [0.627, 0.596, 0.572, 0.554, 0.539, 0.526, 0.513, 0.498, 0.481, 0.461]],
  [10.6, [0.638, 0.606, 0.582, 0.563, 0.548, 0.536, 0.524, 0.512, 0.498, 0.482, 0.463]],
  [11.5, [0.631, 0.601, 0.578, 0.561, 0.547, 0.535, 0.523, 0.511, 0.497, 0.482, 0.462]],
  [12.4, [0.626, 0.597, 0.575, 0.558, 0.544, 0.532, 0.519, 0.504, 0.487, 0.466]],
  [13.3, [0.608, 0.582, 0.561, 0.546, 0.532, 0.518, 0.503, 0.486, 0.466]],
  [14.6, [0.603, 0.576, 0.556, 0.541, 0.527, 0.513, 0.497, 0.478]],
  [15.9, [0.618, 0.589, 0.567, 0.551, 0.537, 0.524, 0.511, 0.496, 0.478]],
  [16.9, [0.643, 0.611, 0.586, 0.567, 0.551, 0.538, 0.526, 0.513, 0.498, 0.481, 0.461]],
  [17.8, [0.637, 0.606, 0.583, 0.565, 0.551, 0.538, 0.525, 0.511, 0.494, 0.473]],
  [18.9, [0.623, 0.594, 0.572, 0.556, 0.542, 0.528, 0.513, 0.496, 0.474]],
  [20.0, [0.641, 0.611, 0.588, 0.571, 0.557, 0.544, 0.531, 0.517, 0.501, 0.483, 0.462]],
  [21.0, [0.652, 0.618, 0.592, 0.573, 0.558, 0.544, 0.531, 0.516, 0.498, 0.476]],
  [22.0, [0.628, 0.597, 0.574, 0.557, 0.542, 0.527, 0.511, 0.492]],
  [23.4, [0.636, 0.605, 0.582, 0.564, 0.549, 0.534, 0.518, 0.498]],
  [25.4, [0.612, 0.586, 0.566, 0.549, 0.533, 0.516, 0.496]],
  [27.0, [0.626, 0.597, 0.576, 0.559, 0.544, 0.528, 0.511, 0.491]],
  [28.0, [0.648, 0.614, 0.589, 0.569, 0.553, 0.538, 0.523, 0.506, 0.486]],
  [29.1, [0.633, 0.603, 0.581, 0.563, 0.548, 0.533, 0.516, 0.496, 0.473]],
];

const minNorth: Column[] = [
  [30.8, [0.67, 0.63, 0.6, 0.58, 0.565, 0.55, 0.54, 0.53, 0.515, 0.5, 0.485, 0.455]],
  [31.6, [0.69, 0.65, 0.625, 0.605, 0.585, 0.57, 0.56, 0.55, 0.54, 0.53, 0.52, 0.51, 0.5, 0.485, 0.47, 0.45]],
  [32.4, [0.67, 0.63, 0.605, 0.585, 0.57, 0.555, 0.545, 0.535, 0.52, 0.505, 0.49]],
  [34.2, [0.68, 0.64, 0.61, 0.59, 0.57, 0.555, 0.54, 0.52]],
  [36.0, [0.6, 0.575, 0.555, 0.54]],
  [37.8, [0.69, 0.66, 0.635, 0.615, 0.6, 0.59, 0.58, 0.57, 0.56, 0.55, 0.54, 0.53, 0.52, 0.505, 0.49, 0.47, 0.45]],
  [38.4, [0.68, 0.65, 0.625, 0.605, 0.59, 0.58, 0.57, 0.56, 0.55, 0.54, 0.53, 0.515, 0.5, 0.48, 0.46]],
  [39.2, [0.66, 0.635, 0.615, 0.6, 0.585, 0.575, 0.565, 0.555, 0.545, 0.535, 0.52, 0.505, 0.49, 0.47]],
  [40.0, [0.69, 0.655, 0.63, 0.61, 0.595, 0.58, 0.57, 0.56, 0.55, 0.54, 0.525, 0.51, 0.495, 0.475, 0.455]],
  [40.8, [0.67, 0.64, 0.62, 0.6, 0.585, 0.575, 0.565, 0.555, 0.545, 0.535, 0.52, 0.505, 0.49, 0.47, 0.45]],
  [41.6, [0.7, 0.665, 0.64, 0.62, 0.6, 0.585, 0.57, 0.56, 0.55, 0.54, 0.53, 0.515, 0.5, 0.48, 0.455, 0.43, 0.407, 0.387]],
  [42.4, [0.68, 0.65, 0.625, 0.605, 0.59, 0.575, 0.565, 0.555, 0.545, 0.53, 0.515, 0.5, 0.48, 0.46]],
  [43.8, [0.66, 0.63, 0.61, 0.59, 0.575, 0.56, 0.545, 0.53, 0.51]],
  [45.0, [0.67, 0.635, 0.61, 0.59, 0.575, 0.56, 0.545, 0.525]],
  [46.2, [0.65, 0.62, 0.6, 0.58, 0.565, 0.55, 0.53]],
  [47.2, [0.69, 0.655, 0.63, 0.61, 0.595, 0.58, 0.565, 0.55, 0.535, 0.52, 0.5, 0.48]],
  [48.0, [0.7, 0.665, 0.64, 0.62, 0.6, 0.585, 0.57, 0.555, 0.54, 0.52, 0.5, 0.47]],
  [49.0, [0.68, 0.65, 0.625, 0.605, 0.59, 0.575, 0.56, 0.545, 0.53, 0.51]],
  [50.0, [0.71, 0.675, 0.645, 0.625, 0.605, 0.59, 0.575, 0.56, 0.545, 0.525, 0.505]],
  [51.0, [0.69, 0.655, 0.63, 0.61, 0.595, 0.58, 0.565, 0.55, 0.53, 0.51]],
  [52.2, [0.67, 0.64, 0.615, 0.595, 0.58, 0.565, 0.545, 0.525]],
  [54.2, [0.65, 0.625, 0.605, 0.59, 0.575, 0.56]],
  [56.6, [0.7, 0.67, 0.645, 0.625, 0.61, 0.595, 0.58, 0.565, 0.55, 0.53]],
  [57.4, [0.72, 0.685, 0.655, 0.635, 0.62, 0.605, 0.59, 0.575, 0.56, 0.54, 0.52]],
  [58.4, [0.69, 0.66, 0.64, 0.62, 0.6, 0.585, 0.57, 0.55, 0.53]],
];

const minNorthB: Column[] = [
  [30.4, [0.658, 0.623, 0.597, 0.577, 0.561, 0.547, 0.533, 0.518, 0.501, 0.481]],
  [31.1, [0.676, 0.638, 0.611, 0.591, 0.575, 0.562, 0.549, 0.536, 0.522, 0.507, 0.489, 0.468]],
  [31.9, [0.682, 0.646, 0.618, 0.597, 0.581, 0.567, 0.554, 0.542, 0.529, 0.514, 0.497, 0.476, 0.451]],
  [32.8, [0.653, 0.621, 0.597, 0.578, 0.562, 0.548, 0.533, 0.516, 0.497]],
  [34.6, [0.662, 0.628, 0.602, 0.582, 0.564, 0.546, 0.526]],
  [37.5, [0.676, 0.646, 0.623, 0.606, 0.592, 0.579, 0.567, 0.556, 0.544, 0.532, 0.518, 0.502, 0.484, 0.462]],
  [38.1, [0.698, 0.663, 0.637, 0.617, 0.601, 0.587, 0.575, 0.564, 0.553, 0.542, 0.529, 0.515, 0.498, 0.477, 0.452]],
  [38.8, [0.672, 0.643, 0.621, 0.604, 0.589, 0.577, 0.566, 0.554, 0.542, 0.528, 0.512, 0.493, 0.468]],
  [39.6, [0.686, 0.652, 0.627, 0.608, 0.593, 0.581, 0.569, 0.558, 0.546, 0.533, 0.518, 0.501, 0.479, 0.453]],
  [40.4, [0.677, 0.646, 0.623, 0.606, 0.591, 0.578, 0.567, 0.556, 0.544, 0.531, 0.516, 0.498, 0.476]],
  [41.2, [0.692, 0.658, 0.632, 0.612, 0.596, 0.582, 0.569, 0.557, 0.545, 0.532, 0.517, 0.499, 0.477, 0.448, 0.418]],
  [42.0, [0.684, 0.652, 0.628, 0.609, 0.594, 0.581, 0.568, 0.556, 0.543, 0.528, 0.511, 0.491, 0.467]],
  [43.2, [0.668, 0.637, 0.614, 0.596, 0.581, 0.567, 0.553, 0.537, 0.518]],
  [44.4, [0.673, 0.641, 0.617, 0.598, 0.582, 0.567, 0.551, 0.533]],
  [45.6, [0.659, 0.629, 0.606, 0.588, 0.572, 0.557, 0.539]],
  [46.8, [0.687, 0.653, 0.628, 0.608, 0.592, 0.577, 0.562, 0.546, 0.527, 0.503]],
  [47.6, [0.712, 0.674, 0.646, 0.625, 0.607, 0.592, 0.578, 0.563, 0.547, 0.528, 0.506, 0.478]],
  [48.5, [0.693, 0.658, 0.632, 0.612, 0.596, 0.581, 0.567, 0.552, 0.536, 0.516]],
  [49.5, [0.703, 0.668, 0.641, 0.621, 0.604, 0.589, 0.574, 0.558, 0.541, 0.521]],
  [50.5, [0.698, 0.662, 0.636, 0.616, 0.601, 0.586, 0.572, 0.557, 0.539, 0.518]],
  [51.6, [0.683, 0.651, 0.627, 0.608, 0.592, 0.577, 0.561, 0.543, 0.522]],
  [53.2, [0.662, 0.633, 0.611, 0.594, 0.578, 0.562, 0.544]],
  [55.4, [0.676, 0.643, 0.619, 0.601, 0.585, 0.569, 0.551]],
  [57.0, [0.708, 0.674, 0.648, 0.628, 0.612, 0.598, 0.583, 0.567, 0.549, 0.527]],
  [58.0, [0.716, 0.679, 0.652, 0.632, 0.615, 0.601, 0.586, 0.571, 0.553, 0.532]],
  [59.0, [0.683, 0.653, 0.631, 0.613, 0.597, 0.581, 0.563]],
];

const minFar: Column[] = [
  [60.6, [0.7, 0.67, 0.645, 0.625, 0.605, 0.585, 0.565]],
  [61.8, [0.74, 0.7, 0.675, 0.655, 0.635, 0.615, 0.595, 0.575, 0.555]],
  [62.8, [0.72, 0.69, 0.665, 0.645, 0.625, 0.605, 0.58]],
  [65.6, [0.72, 0.69, 0.665, 0.645, 0.625, 0.61, 0.59]],
  [67.2, [0.73, 0.7, 0.675, 0.655, 0.64, 0.625, 0.61, 0.59]],
  [68.4, [0.72, 0.69, 0.67, 0.65, 0.635, 0.62, 0.6, 0.58]],
  [70.2, [0.74, 0.71, 0.685, 0.665, 0.65, 0.635, 0.62, 0.6, 0.58, 0.56]],
  [71.2, [0.76, 0.73, 0.705, 0.685, 0.665, 0.65, 0.635, 0.62, 0.605, 0.59, 0.57]],
  [71.8, [0.735, 0.71, 0.69, 0.67, 0.655, 0.64, 0.625, 0.61, 0.59]],
  [73.8, [0.74, 0.71, 0.685, 0.665, 0.645, 0.625, 0.605, 0.585, 0.565, 0.55, 0.53]],
  [75.0, [0.72, 0.69, 0.665, 0.645, 0.625, 0.605, 0.585]],
  [76.4, [0.66, 0.63, 0.61]],
  [78.0, [0.76, 0.73, 0.7, 0.675, 0.655, 0.635, 0.615, 0.595, 0.57, 0.55, 0.53, 0.49, 0.464]],
  [79.8, [0.72, 0.69, 0.665, 0.645, 0.625, 0.605, 0.58]],
  [81.0, [0.74, 0.7, 0.675, 0.655, 0.635, 0.615, 0.595]],
  [82.4, [0.7, 0.675, 0.655, 0.635, 0.615]],
  [84.4, [0.75, 0.72, 0.695, 0.675, 0.655, 0.635, 0.615, 0.595]],
  [86.0, [0.655, 0.645]],
];

const minFarB: Column[] = [
  [61.2, [0.726, 0.688, 0.661, 0.641, 0.624, 0.608, 0.591, 0.572]],
  [62.2, [0.733, 0.696, 0.669, 0.648, 0.631, 0.614, 0.596, 0.576]],
  [64.0, [0.702, 0.673, 0.651, 0.633, 0.616, 0.598]],
  [66.0, [0.718, 0.686, 0.662, 0.643, 0.626, 0.609, 0.588]],
  [66.8, [0.736, 0.702, 0.677, 0.658, 0.642, 0.626, 0.608, 0.588]],
  [68.0, [0.728, 0.696, 0.672, 0.654, 0.638, 0.622, 0.604, 0.583]],
  [69.4, [0.716, 0.687, 0.665, 0.648, 0.632, 0.616, 0.597]],
  [70.6, [0.748, 0.716, 0.691, 0.671, 0.655, 0.641, 0.627, 0.611, 0.593, 0.572]],
  [71.5, [0.753, 0.722, 0.698, 0.679, 0.663, 0.648, 0.633, 0.618, 0.601, 0.582, 0.558]],
  [72.4, [0.712, 0.684, 0.663, 0.646, 0.629, 0.611, 0.591]],
  [74.3, [0.726, 0.696, 0.673, 0.654, 0.636, 0.617, 0.596, 0.571]],
  [75.6, [0.703, 0.676, 0.655, 0.636, 0.617, 0.596]],
  [77.6, [0.742, 0.708, 0.683, 0.663, 0.645, 0.626, 0.604, 0.578]],
  [79.2, [0.713, 0.684, 0.662, 0.643, 0.624, 0.603]],
  [80.4, [0.728, 0.694, 0.668, 0.648, 0.629, 0.608]],
  [81.8, [0.708, 0.681, 0.661, 0.642, 0.623]],
  [83.6, [0.716, 0.688, 0.666, 0.647, 0.627]],
  [85.2, [0.742, 0.706, 0.682, 0.663, 0.643, 0.624]],
];

const minOutliers: Pt[] = [
  [-28.0, 0.791], [-20.0, 0.721], [-22.7, 0.63], [-17.4, 0.76], [-17.4, 0.705], [-17.5, 0.697], [-15.3, 0.798],
  [-15.3, 0.753], [-11.8, 0.71], [-9.6, 0.708], [-9.6, 0.68], [-9.2, 0.753], [-9.2, 0.731], [-8.4, 0.861],
  [-5.3, 0.742], [-0.6, 0.706], [1.6, 0.752], [1.6, 0.733], [1.5, 0.69], [2.0, 0.7], [2.6, 0.703], [2.8, 0.798],
  [2.8, 0.785], [2.8, 0.724], [2.2, 0.741], [4.8, 0.7], [4.3, 0.69], [7.6, 0.845], [9.1, 1.005], [9.1, 0.89],
  [7.7, 0.701], [10.7, 0.792], [12.8, 0.786], [10.3, 0.73], [10.9, 0.718], [12.7, 0.75], [14.8, 0.75], [16.4, 0.831],
  [16.5, 0.73], [18.2, 0.717], [18.6, 0.815], [18.6, 0.745], [18.6, 0.735], [20.9, 0.898], [10.3, 0.733],
  [11.5, 0.68], [13.8, 0.686], [16.8, 0.686], [18.4, 0.7], [41.7, 0.944], [41.4, 0.869], [29.3, 0.853],
  [30.7, 0.866], [31.2, 0.85], [31.4, 0.837], [31.1, 0.832], [21.3, 0.832], [24.6, 0.83], [21.6, 0.79],
  [24.6, 0.79], [22.2, 0.745], [23.5, 0.742], [25.3, 0.748], [29.6, 0.8], [35.4, 0.78], [37.7, 0.838], [38.6, 0.79],
  [40.6, 0.84], [41.0, 0.83], [41.0, 0.82], [41.0, 0.8], [41.6, 0.79], [42.1, 0.788], [42.8, 0.8], [45.2, 0.83],
  [45.8, 0.84], [47.7, 0.82], [49.5, 0.84], [51.8, 0.868], [51.8, 0.86], [52.4, 0.82], [48.3, 0.8], [49.5, 0.8],
  [50.2, 0.8], [51.6, 0.8], [56.8, 0.82], [58.7, 0.81], [57.6, 0.79], [56.4, 0.78], [56.4, 0.776], [62.0, 0.82],
  [62.6, 0.8], [70.2, 0.846], [81.0, 0.82], [83.4, 0.81], [78.0, 0.78], [78.5, 0.76], [84.5, 0.776], [74.6, 0.765],
  [75.0, 0.757], [65.6, 0.745], [67.2, 0.743], [67.9, 0.758], [68.6, 0.76], [70.0, 0.77], [71.3, 0.765], [71.5, 0.75],
  [71.5, 0.742], [74.0, 0.72], [-19.5, 0.66], [-17.9, 0.648], [-14.8, 0.627], [-13.1, 0.668], [-12.9, 0.66],
  [-9.5, 0.675], [-8.6, 0.672], [-8.0, 0.645], [-7.4, 0.66], [-6.0, 0.672], [-6.1, 0.66], [-4.2, 0.664],
  [-3.5, 0.606], [-1.5, 0.668], [-1.1, 0.666], [0.6, 0.655], [1.2, 0.662], [1.8, 0.68], [3.0, 0.672], [3.6, 0.663],
  [5.3, 0.685], [6.0, 0.672], [7.0, 0.665], [8.6, 0.655], [10.8, 0.645], [12.7, 0.658], [14.6, 0.655], [16.1, 0.675],
  [17.2, 0.67], [17.8, 0.68], [19.8, 0.662],
];

const LEGEND_POINTS = "naturally weighted restoring beam";
const LEGEND_LINE = "spline fit";

type PanelProps = {
  top: number;
  height: number;
  chartTop: number;
  chartBottom: number;
  yMin: number;
  yMax: number;
  yTicks: number[];
  sub: string;
  columns: Column[][];
  outliers: Pt[];
  spline: number[];
};

function Panel(p: PanelProps) {
  const ref = useRef<HTMLCanvasElement | null>(null);

  useEffect(() => {
    const canvas = ref.current;
    if (!canvas) return;

    const points = [
      ...p.columns.flat().flatMap(([d, vs]) => vs.map((v) => ({ x: d, y: v }))),
      ...p.outliers.map(([d, v]) => ({ x: d, y: v })),
    ];
    const line = splineDec.map((d, i) => ({ x: d, y: p.spline[i] }));

    const decor = {
      id: "decor",
      afterDraw(chart: any) {
        const { ctx, chartArea: a } = chart;
        ctx.save();
        // spines
        ctx.strokeStyle = "#000";
        ctx.lineWidth = 1;
        ctx.beginPath();
        ctx.moveTo(a.left + 0.5, a.top);
        ctx.lineTo(a.left + 0.5, a.bottom + 1);
        ctx.moveTo(a.left, a.top + 0.5);
        ctx.lineTo(a.right, a.top + 0.5);
        ctx.moveTo(a.left, a.bottom + 0.5);
        ctx.lineTo(a.right, a.bottom + 0.5);
        ctx.stroke();

        // legend
        const ly = a.top;
        const bx = 356.5, by = ly + 12.5, bw = 474.5, bh = 73, r = 4;
        ctx.beginPath();
        ctx.moveTo(bx + r, by);
        ctx.lineTo(bx + bw - r, by);
        ctx.arcTo(bx + bw, by, bx + bw, by + r, r);
        ctx.lineTo(bx + bw, by + bh - r);
        ctx.arcTo(bx + bw, by + bh, bx + bw - r, by + bh, r);
        ctx.lineTo(bx + r, by + bh);
        ctx.arcTo(bx, by + bh, bx, by + bh - r, r);
        ctx.lineTo(bx, by + r);
        ctx.arcTo(bx, by, bx + r, by, r);
        ctx.closePath();
        ctx.fillStyle = "rgba(255,255,255,0.8)";
        ctx.fill();
        ctx.strokeStyle = "#cccccc";
        ctx.lineWidth = 1;
        ctx.stroke();

        ctx.fillStyle = "#ff0000";
        ctx.beginPath();
        ctx.arc(388, ly + 30, 1.3, 0, Math.PI * 2);
        ctx.fill();
        ctx.strokeStyle = "#1f77b4";
        ctx.lineWidth = 4;
        ctx.beginPath();
        ctx.moveTo(364, ly + 63);
        ctx.lineTo(413, ly + 63);
        ctx.stroke();

        ctx.fillStyle = "#000";
        ctx.font = `${FS}px ${FONT}`;
        ctx.textAlign = "left";
        ctx.textBaseline = "alphabetic";
        ctx.fillText(LEGEND_POINTS, 428, ly + 37.5);
        ctx.fillText(LEGEND_LINE, 428, ly + 69.5);

        // x axis title
        const italic = `italic ${FS}px ${FONT}`;
        const normal = `${FS}px ${FONT}`;
        ctx.font = italic;
        const wd = ctx.measureText("\u03b4").width;
        ctx.font = normal;
        const wr = ctx.measureText(" (deg)").width;
        const cx = 463;
        const xb = a.bottom + 46;
        const x0 = cx - (wd + wr) / 2;
        ctx.font = italic;
        ctx.fillText("\u03b4", x0, xb);
        ctx.font = normal;
        ctx.fillText(" (deg)", x0 + wd, xb);

        // y axis title (rotated)
        const subFont = `${FS * 0.7}px ${FONT}`;
        ctx.font = italic;
        const wb = ctx.measureText("b").width;
        ctx.font = subFont;
        const ws = ctx.measureText(p.sub).width;
        ctx.font = normal;
        const wm = ctx.measureText(" (mas)").width;
        const total = wb + ws + wm;
        ctx.translate(30.5, (a.top + a.bottom) / 2 + 1.5);
        ctx.rotate(-Math.PI / 2);
        let sx = -total / 2;
        ctx.font = italic;
        ctx.fillText("b", sx, 0);
        sx += wb;
        ctx.font = subFont;
        ctx.fillText(p.sub, sx, 5);
        sx += ws;
        ctx.font = normal;
        ctx.fillText(" (mas)", sx, 0);
        ctx.restore();
      },
    };

    const tickFont = { family: "DejaVu Sans", size: FS, lineHeight: 1 };
    const grid = {
      display: true,
      drawOnChartArea: false,
      drawTicks: true,
      tickLength: 5,
      tickColor: "#000",
      tickWidth: 1,
      lineWidth: 1,
    };

    const chart = new Chart(canvas, {
      type: "scatter",
      data: {
        datasets: [
          {
            type: "line",
            label: LEGEND_LINE,
            data: line,
            borderColor: "#1f77b4",
            borderWidth: 4,
            pointRadius: 0,
            fill: false,
            cubicInterpolationMode: "monotone",
            order: 0,
          } as any,
          {
            type: "scatter",
            label: LEGEND_POINTS,
            data: points,
            backgroundColor: "#ff0000",
            borderWidth: 0,
            pointRadius: 1.1,
            order: 1,
          } as any,
        ],
      },
      options: {
        animation: false,
        responsive: false,
        maintainAspectRatio: false,
        events: [],
        layout: { padding: { top: p.chartTop, left: 0, right: 0, bottom: 0 }, autoPadding: false } as any,
        plugins: { legend: { display: false }, tooltip: { enabled: false }, title: { display: false } },
        scales: {
          x: {
            type: "linear",
            min: X_MIN,
            max: X_MAX,
            afterBuildTicks: (s: any) => {
              s.ticks = xTicks.map((v) => ({ value: v }));
            },
            afterFit: (s: any) => {
              s.height = p.height - p.chartBottom;
              s.paddingLeft = 0;
              s.paddingRight = 0;
            },
            ticks: {
              autoSkip: false,
              maxRotation: 0,
              minRotation: 0,
              padding: 0,
              color: "#000",
              font: tickFont,
              callback: (v: any) => (Number(v) < 0 ? "\u2212" + Math.abs(Number(v)) : String(v)),
            },
            grid,
            border: { display: false },
          },
          y: {
            type: "linear",
            min: p.yMin,
            max: p.yMax,
            afterBuildTicks: (s: any) => {
              s.ticks = p.yTicks.map((v) => ({ value: v }));
            },
            afterFit: (s: any) => {
              s.width = 83;
              s.paddingTop = 0;
              s.paddingBottom = 0;
            },
            ticks: {
              autoSkip: false,
              padding: 1,
              color: "#000",
              font: tickFont,
              callback: (v: any) => Number(v).toFixed(1),
            },
            grid,
            border: { display: false },
          },
        },
      },
      plugins: [decor],
    } as any);

    return () => chart.destroy();
  }, []);

  return (
    <div style={{ position: "absolute", left: 0, top: p.top, width: 838, height: p.height }}>
      <canvas ref={ref} width={838} height={p.height} style={{ display: "block", width: 838, height: p.height }} />
    </div>
  );
}

export default function App() {
  return (
    <div style={{ position: "absolute", left: 0, top: 0, width: 838, height: 1220, overflow: "hidden", background: "#fff" }}>
      <Panel
        top={0}
        height={600}
        chartTop={8}
        chartBottom={511}
        yMin={0.4639}
        yMax={3.0567}
        yTicks={majYTicks}
        sub="maj"
        columns={[majSouth, majSouthB, majMid, majMidB, majNorth, majNorthB, majFar, majFarB]}
        outliers={majOutliers}
        spline={majSpline}
      />
      <Panel
        top={600}
        height={620}
        chartTop={62}
        chartBottom={564}
        yMin={0.3214}
        yMax={1.1153}
        yTicks={minYTicks}
        sub="min"
        columns={[minSouth, minSouthB, minMid, minMidB, minNorth, minNorthB, minFar, minFarB]}
        outliers={minOutliers}
        spline={minSpline}
      />
    </div>
  );
}
